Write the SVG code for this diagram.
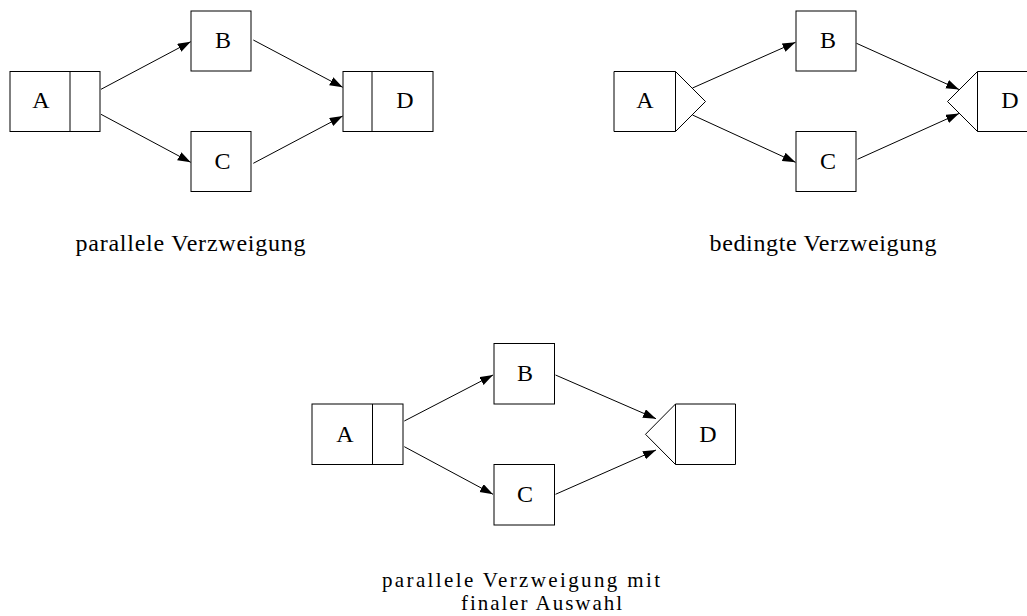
<svg xmlns="http://www.w3.org/2000/svg" width="1027" height="616" viewBox="0 0 1027 616">
<style>
.box{fill:#fff;stroke:#000;stroke-width:1}
.lbl{font-family:"Liberation Serif","Times New Roman",serif;font-size:24px;fill:#000;text-anchor:middle}
.cap{font-family:"Liberation Serif","Times New Roman",serif;font-size:24px;fill:#000}
.cap2{font-family:"Liberation Serif","Times New Roman",serif;font-size:21px;fill:#000}
.edge{fill:none;stroke:#000;stroke-width:1}
</style>
<defs>
<marker id="ah" markerUnits="userSpaceOnUse" markerWidth="14" markerHeight="10" refX="13" refY="4.5" orient="auto" viewBox="0 0 14 10">
<path d="M0,0 L13,4.5 L0,9 Z" fill="#000"/>
</marker>
</defs>
<rect width="1027" height="616" fill="#fff"/>

<!-- Diagram 1: parallele Verzweigung -->
<g id="d1-A"><rect class="box" x="10" y="71.5" width="90" height="60"/><line class="box" x1="70" y1="71.5" x2="70" y2="131.5"/><text class="lbl" x="41" y="108">A</text></g>
<g id="d1-B"><rect class="box" x="191" y="11" width="60" height="60"/><text class="lbl" x="223" y="48">B</text></g>
<g id="d1-C"><rect class="box" x="191" y="131.5" width="60" height="60"/><text class="lbl" x="222.5" y="169">C</text></g>
<g id="d1-D"><rect class="box" x="343" y="71.5" width="90" height="60"/><line class="box" x1="372" y1="71.5" x2="372" y2="131.5"/><text class="lbl" x="405" y="108">D</text></g>
<g id="d1-caption"><text class="cap" x="75.5" y="250.5" textLength="230" lengthAdjust="spacing">parallele Verzweigung</text></g>

<!-- Diagram 2: bedingte Verzweigung -->
<g id="d2-A"><path class="box" d="M614,71.5 L675.5,71.5 L705.5,101.5 L675.5,131.5 L614,131.5 Z"/><line class="box" x1="675.5" y1="71.5" x2="675.5" y2="131.5"/><text class="lbl" x="645" y="108">A</text></g>
<g id="d2-B"><rect class="box" x="796" y="11" width="60" height="60"/><text class="lbl" x="828" y="48">B</text></g>
<g id="d2-C"><rect class="box" x="796" y="131.5" width="60" height="60"/><text class="lbl" x="828" y="169">C</text></g>
<g id="d2-D"><path class="box" d="M1040,71.5 L977.5,71.5 L947.5,101.5 L977.5,131.5 L1040,131.5 Z"/><line class="box" x1="977.5" y1="71.5" x2="977.5" y2="131.5"/><text class="lbl" x="1010" y="108">D</text></g>
<g id="d2-caption"><text class="cap" x="709.5" y="250.5" textLength="227" lengthAdjust="spacing">bedingte Verzweigung</text></g>

<!-- Diagram 3: parallele Verzweigung mit finaler Auswahl -->
<g id="d3-A"><rect class="box" x="312" y="404" width="91" height="60.5"/><line class="box" x1="372.5" y1="404" x2="372.5" y2="464.5"/><text class="lbl" x="345" y="442">A</text></g>
<g id="d3-B"><rect class="box" x="494" y="343.5" width="60.5" height="60.5"/><text class="lbl" x="525" y="381">B</text></g>
<g id="d3-C"><rect class="box" x="494" y="464.5" width="60.5" height="60.5"/><text class="lbl" x="525" y="502">C</text></g>
<g id="d3-D"><path class="box" d="M735.5,404 L675.5,404 L645.5,434.3 L675.5,464.5 L735.5,464.5 Z"/><line class="box" x1="675.5" y1="404" x2="675.5" y2="464.5"/><text class="lbl" x="708" y="442">D</text></g>
<g id="d3-caption"><text class="cap2" x="382" y="587" textLength="278" lengthAdjust="spacing">parallele Verzweigung mit</text><text class="cap2" x="461" y="610" textLength="161" lengthAdjust="spacing">finaler Auswahl</text></g>

<g id="connectors">
<line class="edge" x1="101" y1="89.3" x2="190.7" y2="41.7" marker-end="url(#ah)"/>
<line class="edge" x1="101" y1="114.3" x2="190.7" y2="162.3" marker-end="url(#ah)"/>
<line class="edge" x1="253.3" y1="40" x2="342.7" y2="87.3" marker-end="url(#ah)"/>
<line class="edge" x1="253.3" y1="163.3" x2="342.7" y2="116" marker-end="url(#ah)"/>

<line class="edge" x1="692.5" y1="88" x2="795.5" y2="42.3" marker-end="url(#ah)"/>
<line class="edge" x1="692.5" y1="115" x2="795.5" y2="162.3" marker-end="url(#ah)"/>
<line class="edge" x1="856.5" y1="43.3" x2="959" y2="89.5" marker-end="url(#ah)"/>
<line class="edge" x1="857.5" y1="159.3" x2="959" y2="113.5" marker-end="url(#ah)"/>

<line class="edge" x1="404.3" y1="421" x2="493" y2="375" marker-end="url(#ah)"/>
<line class="edge" x1="404.3" y1="446.7" x2="493" y2="494.3" marker-end="url(#ah)"/>
<line class="edge" x1="555.5" y1="375" x2="656" y2="418.7" marker-end="url(#ah)"/>
<line class="edge" x1="555.5" y1="494.3" x2="656" y2="450" marker-end="url(#ah)"/>
</g>
</svg>
